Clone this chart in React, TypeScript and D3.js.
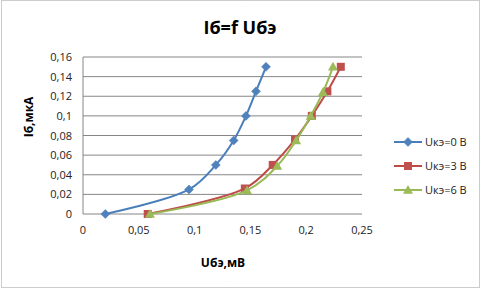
import React from "react";
import * as d3 from "d3";

const seriesNames = ["Uкэ=0 В", "Uкэ=3 В", "Uкэ=6 В"];
const xBlue = [0.02, 0.095, 0.119, 0.135, 0.146, 0.155, 0.164];
const yBlue = [0, 0.025, 0.05, 0.075, 0.1, 0.125, 0.15];
const xRed = [0.058, 0.145, 0.17, 0.19, 0.205, 0.219, 0.231];
const yRed = [0, 0.026, 0.05, 0.076, 0.1, 0.125, 0.15];
const xGreen = [0.06, 0.147, 0.174, 0.191, 0.204, 0.215, 0.224];
const yGreen = [0, 0.024, 0.049, 0.075, 0.1, 0.124, 0.15];
const xTicks = [0, 0.05, 0.1, 0.15, 0.2, 0.25];
const yTicks = [0, 0.02, 0.04, 0.06, 0.08, 0.1, 0.12, 0.14, 0.16];

const colors = ["#4A7EBB", "#BE4B48", "#98B954"];
const markerFill = ["#4F81BD", "#C0504D", "#9BBB59"];

const fmt = (v: number) => String(v).replace(".", ",");

function Marker({ kind, x, y, fill }: { kind: number; x: number; y: number; fill: string }) {
  if (kind === 0) {
    const s = 4.5;
    return <path d={`M${x},${y - s}L${x + s},${y}L${x},${y + s}L${x - s},${y}Z`} fill={fill} stroke={fill} strokeWidth={0.5} />;
  }
  if (kind === 1) {
    const s = 4;
    return <rect x={x - s} y={y - s} width={2 * s} height={2 * s} fill={fill} />;
  }
  const s = 5;
  return <path d={`M${x},${y - s}L${x + s},${y + s * 0.75}L${x - s},${y + s * 0.75}Z`} fill={fill} />;
}

export default function App() {
  const W = 482, H = 289;
  const x = d3.scaleLinear().domain([0, 0.25]).range([83, 362]);
  const y = d3.scaleLinear().domain([0, 0.16]).range([214, 57]);
  const line = d3
    .line<[number, number]>()
    .x((d) => x(d[0]))
    .y((d) => y(d[1]))
    .curve(d3.curveCatmullRom.alpha(0.5));
  const series: [number, number][][] = [
    xBlue.map((v, i) => [v, yBlue[i]]),
    xRed.map((v, i) => [v, yRed[i]]),
    xGreen.map((v, i) => [v, yGreen[i]]),
  ];
  const font = "Open Sans, Liberation Sans, sans-serif";
  return (
    <svg width={W} height={H} style={{ position: "absolute", left: 0, top: 0, background: "#fff" }} fontFamily={font}>
      <rect x={1.5} y={0.5} width={478} height={287} fill="#fff" stroke="#999" strokeDasharray="1,1" />
      <text x={240} y={34} textAnchor="middle" fontSize={18} fontWeight="bold" fill="#000">Iб=f Uбэ</text>
      {yTicks.map((t) => (
        <g key={t}>
          <line x1={83} x2={362} y1={y(t)} y2={y(t)} stroke="#868686" strokeWidth={1} />
          <text x={72} y={y(t) + 4} textAnchor="end" fontSize={11} fill="#222">{fmt(t)}</text>
        </g>
      ))}
      <line x1={83} x2={83} y1={57} y2={214} stroke="#868686" />
      {xTicks.map((t) => (
        <text key={t} x={x(t)} y={234} textAnchor="middle" fontSize={11} fill="#222">{fmt(t)}</text>
      ))}
      <text x={223} y={267} textAnchor="middle" fontSize={12} fontWeight="bold" fill="#000">Uбэ,мВ</text>
      <text transform="translate(33,117) rotate(-90)" textAnchor="middle" fontSize={12} fontWeight="bold" fill="#000">Iб,мкА</text>
      {series.map((s, k) => (
        <g key={k}>
          <path d={line(s) || ""} fill="none" stroke={colors[k]} strokeWidth={2} />
          {s.map((p, i) => (
            <Marker key={i} kind={k} x={x(p[0])} y={y(p[1])} fill={markerFill[k]} />
          ))}
        </g>
      ))}
      {seriesNames.map((n, k) => {
        const ly = 142 + k * 24;
        return (
          <g key={n}>
            <line x1={394} x2={422} y1={ly} y2={ly} stroke={colors[k]} strokeWidth={2} />
            <Marker kind={k} x={408} y={ly} fill={markerFill[k]} />
            <text x={425} y={ly + 4} fontSize={11} fill="#222">{n}</text>
          </g>
        );
      })}
    </svg>
  );
}
